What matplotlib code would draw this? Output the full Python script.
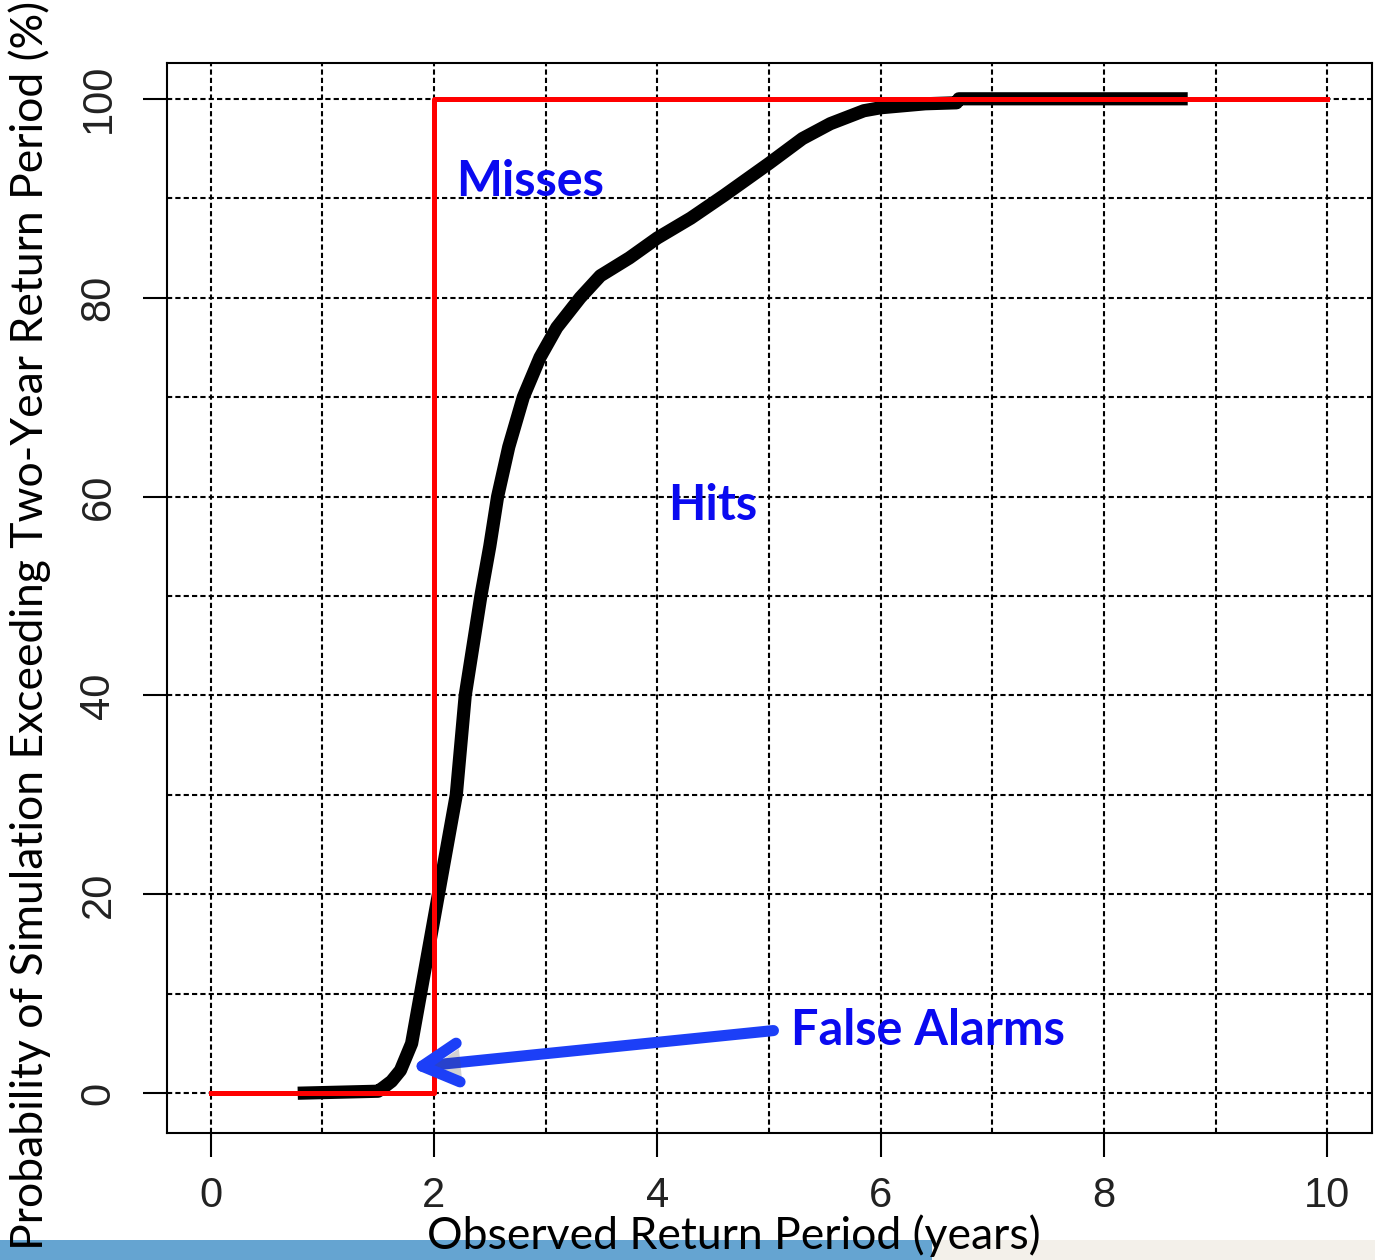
import numpy as np
import matplotlib.pyplot as plt
import matplotlib.patheffects as pe
from matplotlib.patches import Rectangle

# simulated exceedance curve: observed return period (years) vs probability (%)
curve_x = [0.78, 1.50, 1.55, 1.62, 1.70, 1.80, 1.88, 1.96, 2.04, 2.12, 2.20, 2.24,
           2.28, 2.35, 2.42, 2.50, 2.57, 2.67, 2.80, 2.95, 3.10, 3.31, 3.49, 3.75,
           4.00, 4.30, 4.60, 5.00, 5.30, 5.55, 5.85, 6.00, 6.40, 6.68, 6.70, 8.75]
curve_y = [0, 0.2, 0.6, 1.2, 2.3, 5, 10, 15, 20, 25, 30, 35,
           40, 45, 50, 55, 60, 65, 70, 74, 77, 80, 82.2, 84,
           86, 88, 90.3, 93.5, 96, 97.5, 98.8, 99.1, 99.5, 99.6, 100, 100]

# two-year threshold step
thresh_x = [0, 2, 2, 10]
thresh_y = [0, 0, 100, 100]

x_ticks = [0, 2, 4, 6, 8, 10]
y_ticks = [0, 20, 40, 60, 80, 100]

region_labels = ['Misses', 'Hits', 'False Alarms']
region_x = [2.2, 4.1, 5.2]
region_y = [91.7, 59.1, 6.3]
arrow_start = (5.04, 6.3)
arrow_tip = (1.79, 2.6)

label_font = ['Lato', 'DejaVu Sans']
tick_font = ['Liberation Sans Narrow', 'Liberation Sans', 'DejaVu Sans']
blue = '#0a0af0'

fig = plt.figure(figsize=(13.75, 12.6), dpi=100)
ax = fig.add_axes([0.1215, 0.1008, 0.8763, 0.8492])

ax.plot(curve_x, curve_y, color='black', lw=9.5, solid_capstyle='butt', zorder=3)
ax.plot(thresh_x, thresh_y, color='#ff0000', lw=3.6, zorder=4)

ax.set_xlim(-0.39, 10.4)
ax.set_ylim(-4, 103.6)

ax.set_xticks(x_ticks)
ax.set_yticks(y_ticks)
ax.set_xticks(np.arange(0, 11, 1), minor=True)
ax.set_yticks(np.arange(0, 101, 10), minor=True)
ax.grid(which='both', color='black', lw=1.5, linestyle=(0, (2.5, 1.5)), zorder=1)
ax.set_axisbelow(True)

ax.tick_params(which='major', direction='out', length=17, width=1.5, color='black')
ax.tick_params(which='minor', length=0)
ax.tick_params(axis='x', pad=14)
ax.tick_params(axis='y', pad=18)
for sp in ax.spines.values():
    sp.set_linewidth(1.5)

for lab in ax.get_xticklabels():
    lab.set_family(tick_font)
    lab.set_fontsize(30)
    lab.set_color('#222222')
for lab in ax.get_yticklabels():
    lab.set_family(tick_font)
    lab.set_fontsize(30)
    lab.set_rotation(90)
    lab.set_va('center')
    lab.set_color('#222222')

# region labels and arrow
for txt, tx, ty in zip(region_labels, region_x, region_y):
    ax.text(tx, ty, txt, color=blue, fontsize=35, fontweight='bold',
            family=label_font, ha='left', va='center', zorder=6)

ax.annotate('', xy=arrow_tip, xytext=arrow_start,
            arrowprops=dict(arrowstyle='->,head_length=2.6,head_width=1.4',
                            color='#1c3ff7', lw=8, shrinkA=0, shrinkB=0,
                            capstyle='round', joinstyle='round',
                            path_effects=[pe.SimplePatchShadow(offset=(2, -4), alpha=0.25),
                                          pe.Normal()]),
            zorder=6)

# bottom bar strip
fig.add_artist(Rectangle((0, 0), 932 / 1375, 20 / 1260, transform=fig.transFigure,
                         facecolor='#65a4d1', edgecolor='none', zorder=0))
fig.add_artist(Rectangle((932 / 1375, 0), 1 - 932 / 1375, 20 / 1260, transform=fig.transFigure,
                         facecolor='#f3f0ea', edgecolor='none', zorder=0))

fig.text(734 / 1375, 1 - 1236 / 1260, 'Observed Return Period (years)', fontsize=32,
         family=label_font, ha='center', va='center', color='black', zorder=5)
fig.text(30 / 1375, 1 - 625 / 1260,
         'Probability of Simulation Exceeding Two-Year Return Period (%)',
         fontsize=32, family=label_font, rotation=90, ha='center', va='center',
         color='black', zorder=5)

plt.savefig('out.png', dpi=100)
plt.close()
